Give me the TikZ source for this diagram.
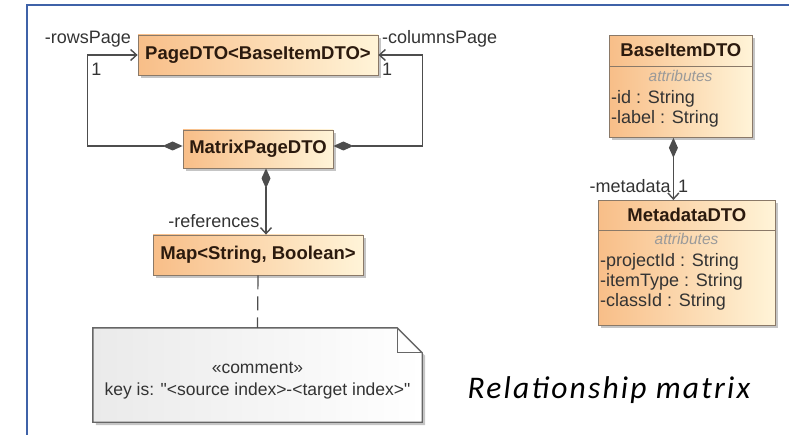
\documentclass[tikz,border=0pt]{standalone}
\usepackage{fontspec}
\setmainfont{Liberation Sans}
\newfontfamily\captionfont[LetterSpace=7]{Carlito}
\usetikzlibrary{arrows.meta,shadows,positioning}
\definecolor{frameblue}{HTML}{3F62A8}
\definecolor{clsleft}{HTML}{F8BE88}
\definecolor{clsright}{HTML}{FFF4D8}
\definecolor{clsborder}{HTML}{8A7968}
\definecolor{clstext}{HTML}{2B1A0E}
\definecolor{linkgray}{HTML}{4D4D4D}
\definecolor{attrgray}{HTML}{9A9A9A}
\definecolor{notefill}{HTML}{EAEAEA}
\tikzstyle{cls}=[rectangle, draw=clsborder, line width=.8pt, left color=clsleft, right color=clsright, drop shadow={shadow xshift=3pt, shadow yshift=-3pt, fill=black!45, opacity=.5}, inner sep=0pt, font=\fontsize{18.5}{20}\selectfont\bfseries, text=clstext]
\tikzstyle{clsname}=[inner sep=0pt, font=\fontsize{18.5}{20}\selectfont\bfseries, text=clstext]
\tikzstyle{attrhead}=[inner sep=0pt, anchor=base, font=\fontsize{15.5}{17}\selectfont\itshape, text=attrgray]
\tikzstyle{attr}=[inner sep=0pt, anchor=base west, font=\fontsize{18}{20}\selectfont, text=black!80]
\tikzstyle{role}=[inner sep=0pt, font=\fontsize{18}{20}\selectfont, text=black!80]
\tikzstyle{link}=[draw, line width=1.4pt, linkgray]
\tikzstyle{owns}=[link, {Diamond[length=20pt,width=9pt]}-{Straight Barb[length=6pt,width=11pt]}]
\tikzstyle{trace}=[link, line width=1.2pt, dash pattern=on 14pt off 7pt]
\tikzstyle{notebox}=[draw=black!60, line width=1.4pt, left color=notefill, right color=white, drop shadow={shadow xshift=3pt, shadow yshift=-3pt, fill=black!45, opacity=.5}]

\begin{document}
\begin{tikzpicture}[x=1pt, y=-1pt]
	\useasboundingbox (0,0) rectangle (789,435);
	\draw[frameblue, line width=2.5pt] (27,435) -- (27,5) -- (789,5);

	\node[cls, minimum width=240, minimum height=40] (page) at (258,55) {PageDTO<BaseItemDTO>};
	\node[cls, minimum width=150, minimum height=38] (matrix) at (258,149) {MatrixPageDTO};
	\node[cls, minimum width=210, minimum height=40] (map) at (258,255) {Map<String, Boolean>};

	\draw[owns] ([yshift=3pt]matrix.west) -- ++(-95,0) |- (page.west)
		node[pos=.5, role, below right=7pt and 3pt] {1}
		node[pos=1, role, above left=7pt and 6pt] {-rowsPage};
	\draw[owns] ([yshift=3pt]matrix.east) -- ++(89,0) |- (page.east)
		node[pos=1, role, below right=7pt and 3pt] {1}
		node[pos=1, role, above right=7pt and 3pt] {-columnsPage};
	\draw[owns] ([xshift=8pt]matrix.south) -- ([xshift=8pt]map.north)
		node[pos=1, role, above left=6pt and 6pt] {-references};

	% comment note
	\node[minimum width=329, minimum height=94, inner sep=0pt] (note) at (257.5,375) {};
	\draw[notebox] (note.north west) -- ([xshift=-25pt]note.north east) -- ([yshift=-25pt]note.north east)
		-- (note.south east) -- (note.south west) -- cycle;
	\draw[draw=black!60, line width=1.2pt] ([xshift=-25pt]note.north east) |- ([yshift=-25pt]note.north east);
	\node[role, align=center, font=\fontsize{17.5}{22}\selectfont] (comment) at ([yshift=-6pt]note.center)
		{«comment»\\key is: \textquotedbl<source index>-<target index>\textquotedbl};
	\draw[trace] (map.south) -- (note.north);

	% BaseItemDTO
	\node[cls, minimum width=143, minimum height=102, anchor=north west] (base) at (609,35) {};
	\draw[clsborder, line width=.8pt] ([yshift=-31pt]base.north west) -- ([yshift=-31pt]base.north east);
	\node[clsname] (baseName) at ([yshift=-15.5pt]base.north) {BaseItemDTO};
	\node[attrhead] (baseAttrs) at (680.5,82) {attributes};
	\foreach \a [count=\i] in {-id : String, -label : String}
		\node[attr] (base-\i) at (611,84+20*\i) {\a};

	% MetadataDTO
	\node[cls, minimum width=177, minimum height=125, anchor=north west] (meta) at (598,200) {};
	\draw[clsborder, line width=.8pt] ([yshift=-30pt]meta.north west) -- ([yshift=-30pt]meta.north east);
	\node[clsname] (metaName) at ([yshift=-15pt]meta.north) {MetadataDTO};
	\node[attrhead] (metaAttrs) at (686.5,245) {attributes};
	\foreach \a [count=\i] in {-projectId : String, -itemType : String, -classId : String}
		\node[attr] (meta-\i) at (600,247+20*\i) {\a};

	\draw[owns] ([xshift=-7.5pt]base.south) -- ([xshift=-7.5pt]base.south |- meta.north)
		node[pos=1, role, above left=7pt and 2pt] {-metadata}
		node[pos=1, role, above right=7pt and 4pt] {1};

	\node[font=\captionfont\fontsize{31.5}{36}\selectfont\itshape] (caption) at (609,390) {Relationship matrix};
\end{tikzpicture}
\end{document}
